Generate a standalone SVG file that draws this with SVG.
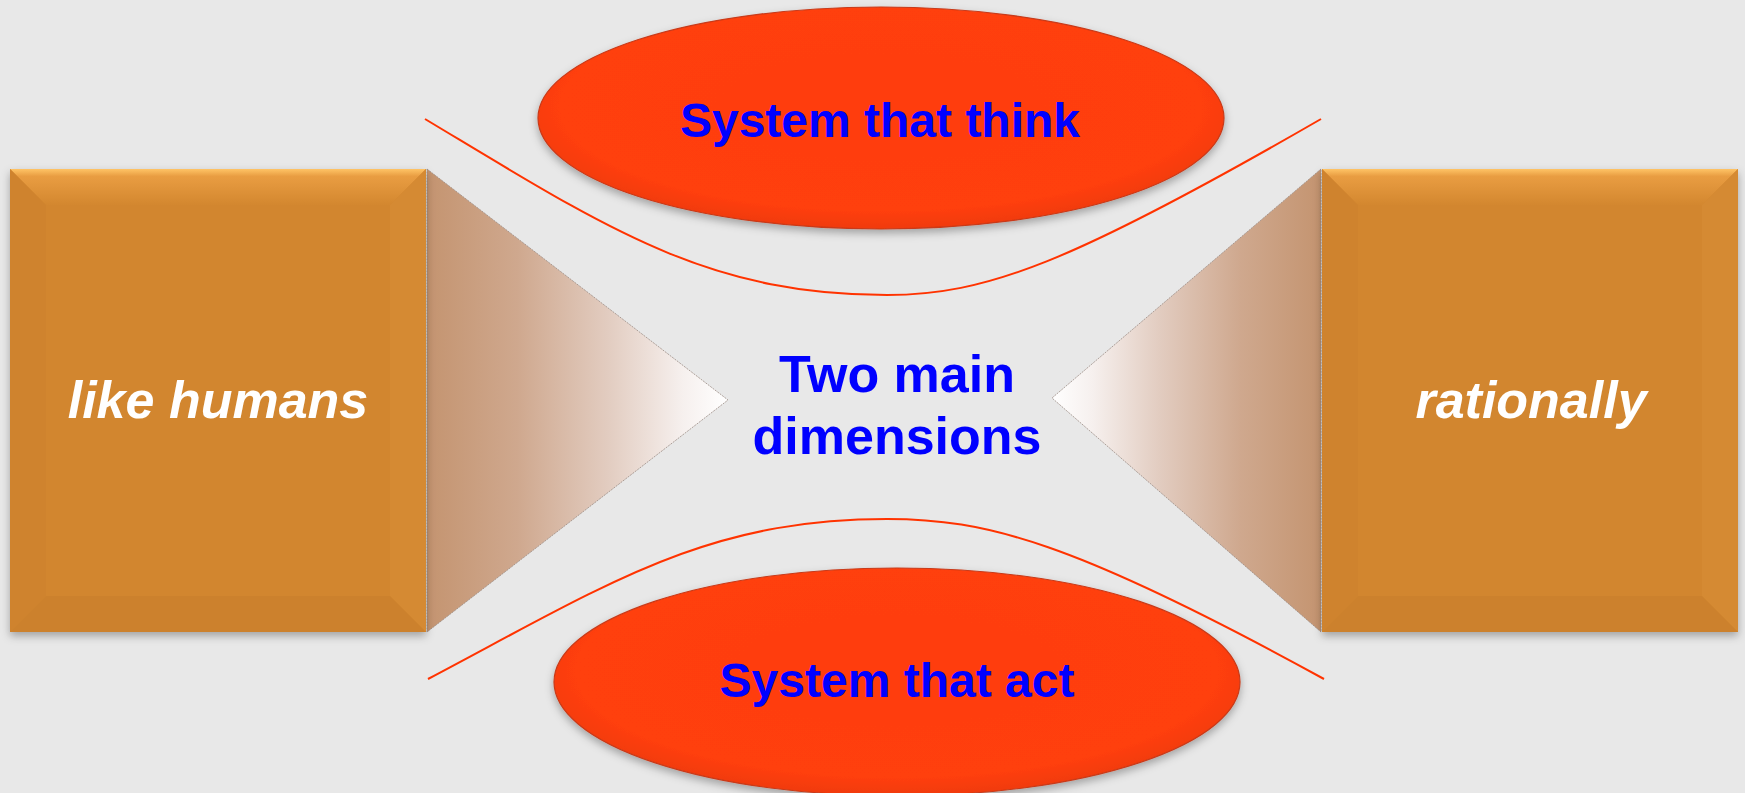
<svg xmlns="http://www.w3.org/2000/svg" width="1745" height="793" viewBox="0 0 1745 793">
<defs>
<style>
.curve{fill:none;stroke:#FF3300;stroke-width:2}
.ell{fill:url(#ellGrad);stroke:#C83A1A;stroke-width:1.2;filter:url(#shadow)}
.box{fill:#D2862F}
.lbl{font-family:"Liberation Sans",Arial,sans-serif;font-weight:bold;fill:#0000FF;text-anchor:middle}
.side{font-family:"Liberation Sans",Arial,sans-serif;font-weight:bold;font-style:italic;fill:#FFFFFF;text-anchor:middle;font-size:52px}
.tri{stroke:#9A8C84;stroke-width:0.8;stroke-dasharray:2 1}
</style>
<filter id="shadow" x="-10%" y="-10%" width="120%" height="130%">
<feDropShadow dx="0" dy="4" stdDeviation="4" flood-color="#000" flood-opacity="0.3"/>
</filter>
<radialGradient id="ellGrad" cx="0.5" cy="0.45" r="0.55">
<stop offset="0" stop-color="#FF3D08"/>
<stop offset="0.85" stop-color="#FF3F0A"/>
<stop offset="1" stop-color="#F03A08"/>
</radialGradient>
<linearGradient id="triL" x1="0" y1="0" x2="1" y2="0">
<stop offset="0" stop-color="#C49470"/>
<stop offset="0.3" stop-color="#CFA88E"/>
<stop offset="0.6" stop-color="#E2CCC0"/>
<stop offset="0.85" stop-color="#F6F0EE"/>
<stop offset="1" stop-color="#FFFFFF"/>
</linearGradient>
<linearGradient id="triR" x1="1" y1="0" x2="0" y2="0">
<stop offset="0" stop-color="#C49470"/>
<stop offset="0.3" stop-color="#CFA88E"/>
<stop offset="0.6" stop-color="#E2CCC0"/>
<stop offset="0.85" stop-color="#F6F0EE"/>
<stop offset="1" stop-color="#FFFFFF"/>
</linearGradient>
<linearGradient id="bevTop" x1="0" y1="0" x2="0" y2="1">
<stop offset="0" stop-color="#FFC466"/>
<stop offset="0.2" stop-color="#E99D42"/>
<stop offset="1" stop-color="#D3872F"/>
</linearGradient>
</defs>
<rect x="0" y="0" width="1745" height="793" fill="#E8E8E8"/>

<g id="connectors">
<path class="curve" d="M425,119 C605,227 705,295 887,295 C985,295 1070,264 1321,119"/>
<path class="curve" d="M428,679 C608,584 705,519 887,519 C985,519 1073,541 1324,679"/>
</g>

<g id="node-like-humans">
<polygon class="tri" points="427,169 728,400 427,632" fill="url(#triL)"/>
<rect class="box" x="10" y="169" width="416" height="463" filter="url(#shadow)"/>
<polygon points="10,169 426,169 390,205 46,205" fill="url(#bevTop)"/>
<polygon points="10,169 46,205 46,596 10,632" fill="#CF832E"/>
<polygon points="426,169 390,205 390,596 426,632" fill="#D58A33"/>
<polygon points="10,632 46,596 390,596 426,632" fill="#CC812D"/>
<rect x="46" y="205" width="344" height="391" fill="#D2862F"/>
<text class="side" x="218" y="418">like humans</text>
</g>

<g id="node-rationally">
<polygon class="tri" points="1321,169 1052,398 1321,632" fill="url(#triR)"/>
<rect class="box" x="1322" y="169" width="416" height="463" filter="url(#shadow)"/>
<polygon points="1322,169 1738,169 1702,205 1358,205" fill="url(#bevTop)"/>
<polygon points="1322,169 1358,205 1358,596 1322,632" fill="#CF832E"/>
<polygon points="1738,169 1702,205 1702,596 1738,632" fill="#D58A33"/>
<polygon points="1322,632 1358,596 1702,596 1738,632" fill="#CC812D"/>
<rect x="1358" y="205" width="344" height="391" fill="#D2862F"/>
<text class="side" x="1531" y="418">rationally</text>
</g>

<g id="node-think">
<ellipse class="ell" cx="881" cy="118" rx="343" ry="111"/>
<text class="lbl" x="880" y="137" font-size="48">System that think</text>
</g>

<g id="node-act">
<ellipse class="ell" cx="897" cy="682" rx="343" ry="114"/>
<text class="lbl" x="897" y="697" font-size="48">System that act</text>
</g>

<g id="node-center">
<text class="lbl" font-size="52"><tspan x="897" y="392">Two main</tspan><tspan x="897" y="454">dimensions</tspan></text>
</g>
</svg>
